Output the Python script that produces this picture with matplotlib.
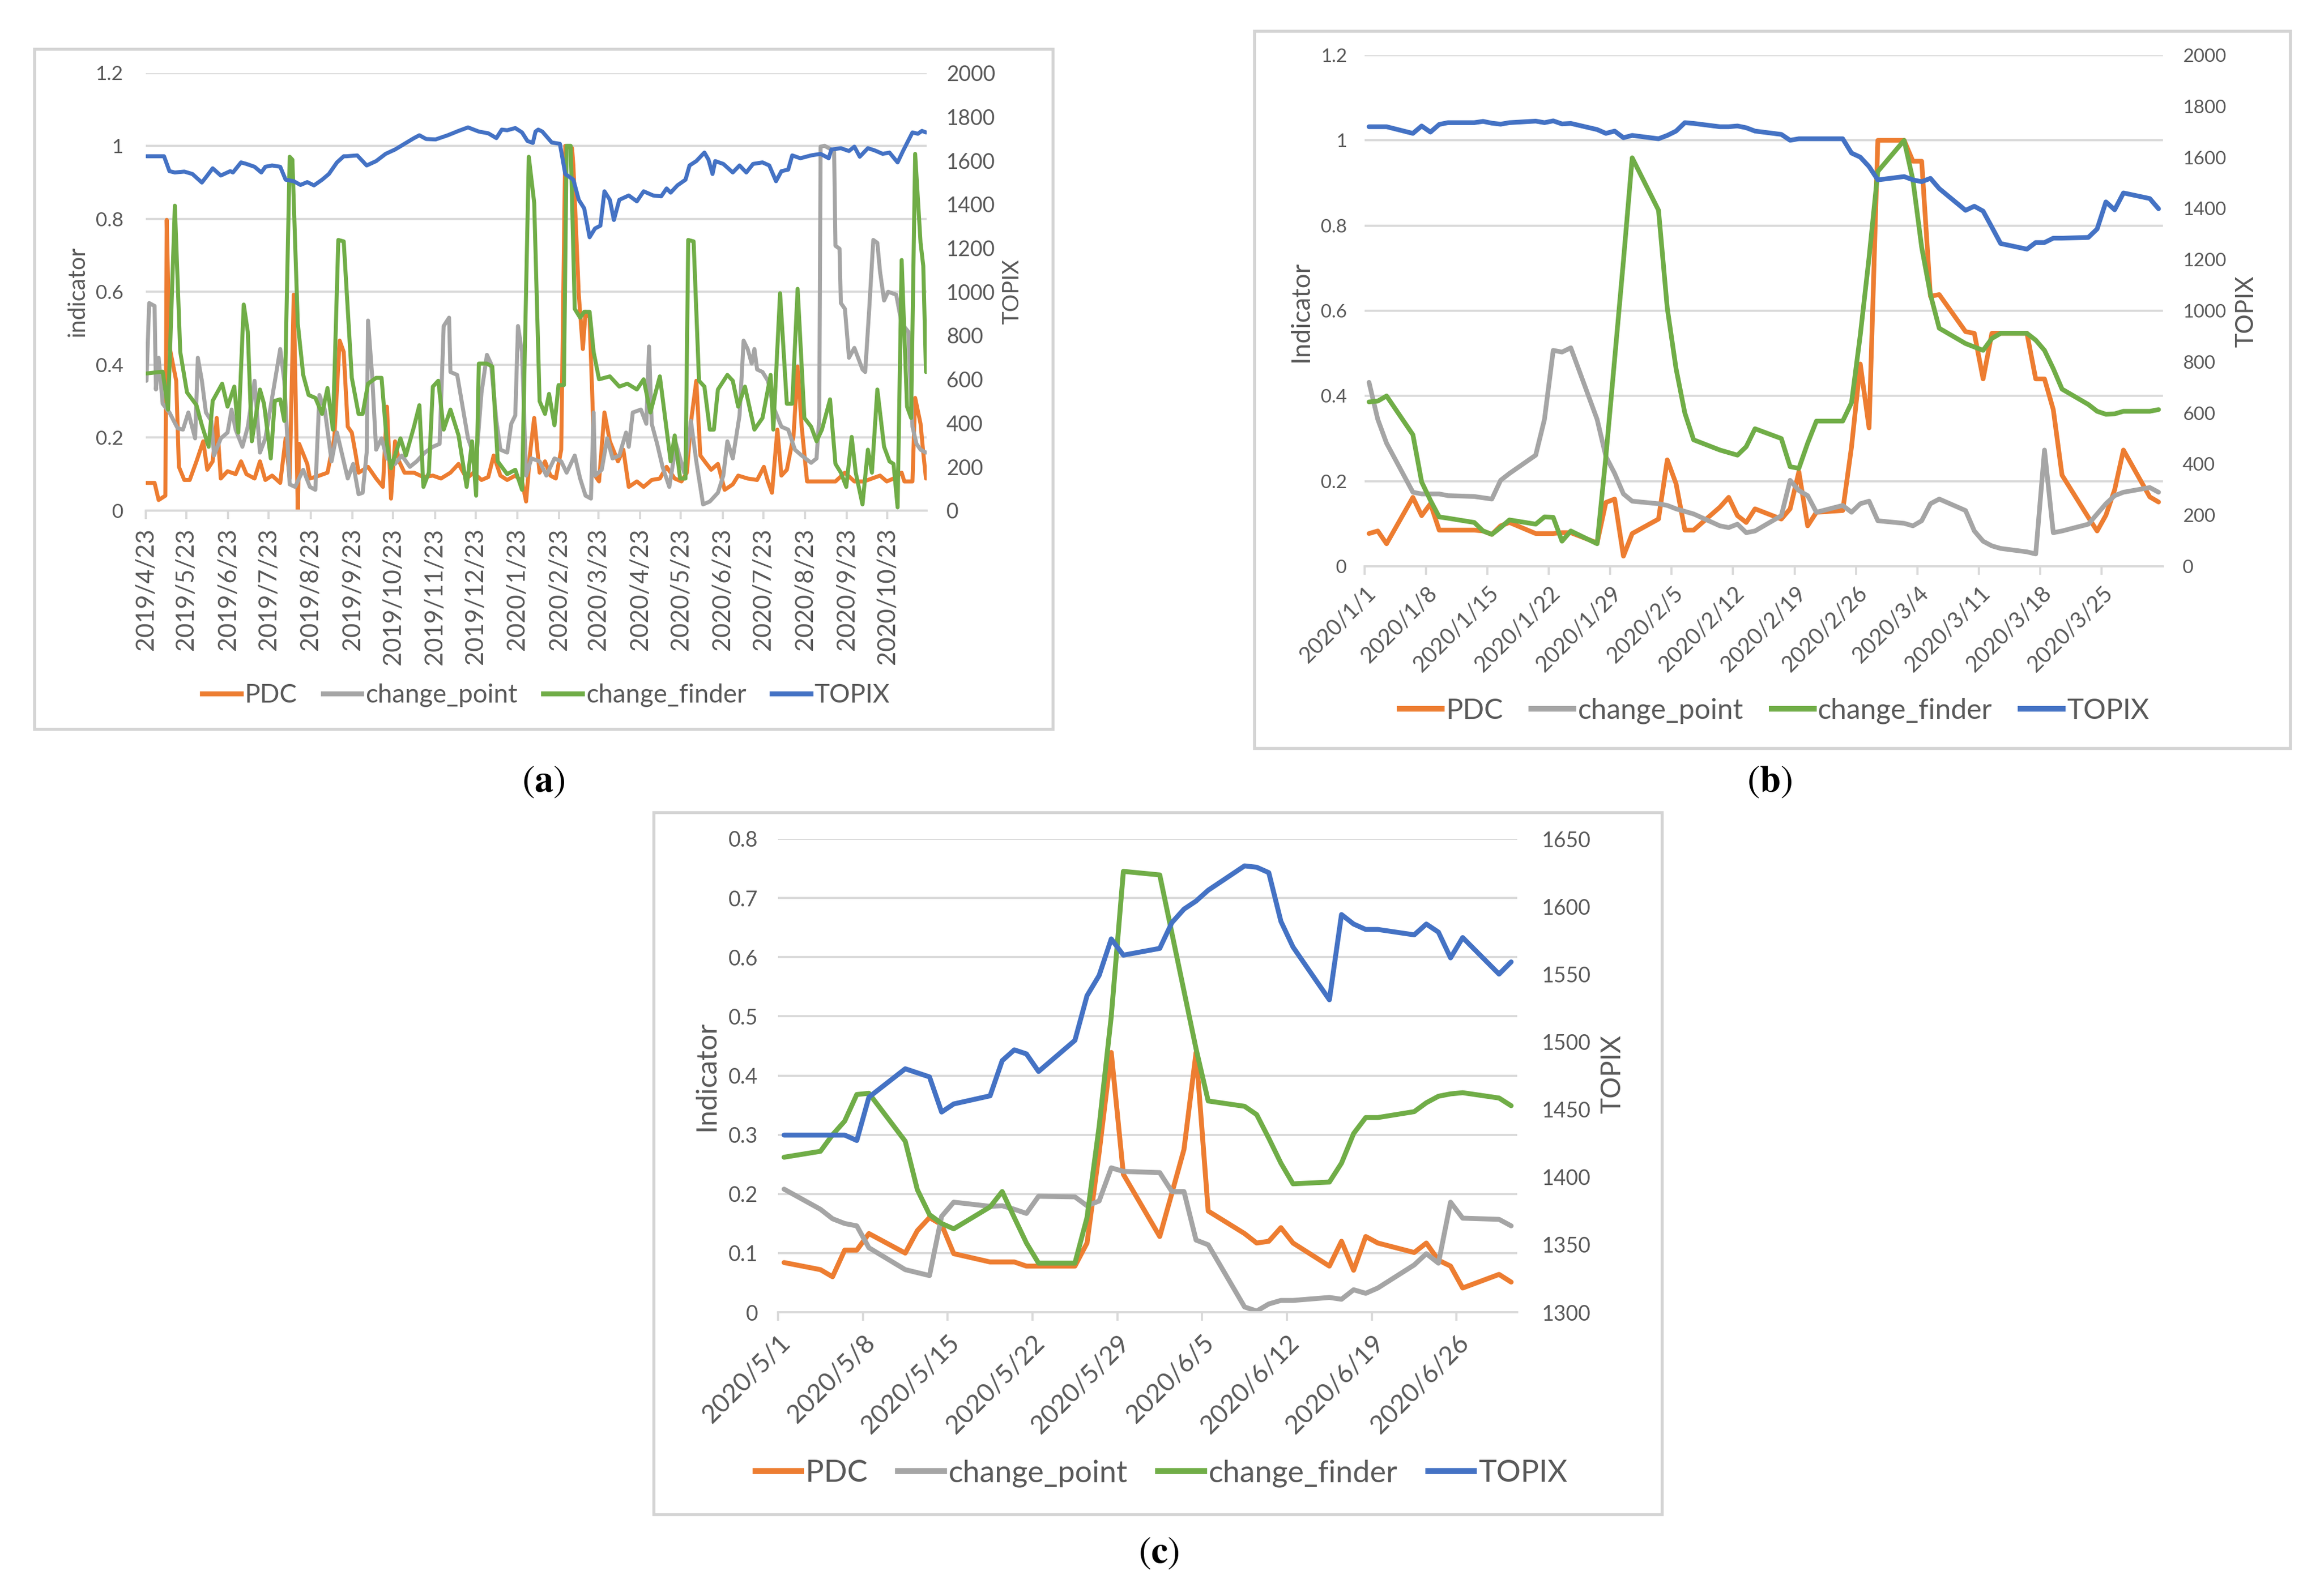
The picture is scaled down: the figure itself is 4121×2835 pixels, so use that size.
import numpy as np
import pandas as pd
import matplotlib
matplotlib.use('Agg')
import matplotlib.pyplot as plt
from matplotlib.lines import Line2D
from matplotlib.patches import Rectangle
from matplotlib.transforms import ScaledTranslation

plt.rcParams['font.family'] = ['Lato', 'DejaVu Sans']
plt.rcParams['mathtext.fontset'] = 'stix'

W, H, DPI = 4121, 2835, 300

names = ['PDC', 'change_point', 'change_finder', 'TOPIX']
colors = ['#ED7D31', '#A5A5A5', '#70AD47', '#4472C4']
TXT = '#595959'
GRID = '#D9D9D9'

# ---------------- panel (a): 2019/4/23 - 2020/11/20, days counted from a_start
a_start = '2019-04-23'

a_pdc_day = [0, 6, 9, 14, 15, 17, 22, 24, 28, 32, 37, 42, 45, 49, 52, 55, 60, 66, 70, 74,
             80, 84, 88, 93, 99, 103, 106, 109, 112, 113, 119, 121, 128, 134, 139, 143, 146,
             149, 152, 155, 157, 164, 170, 175, 178, 181, 184, 187, 191, 198, 205, 212, 218,
             225, 231, 237, 242, 248, 253, 257, 262, 267, 273, 278, 281, 284, 287, 291, 295,
             299, 303, 307, 310, 315, 316, 320, 323, 325, 328, 332, 335, 339, 343, 349, 353,
             357, 363, 368, 374, 380, 385, 391, 396, 400, 403, 407, 410, 414, 418, 423, 428,
             434, 438, 445, 452, 457, 460, 463, 467, 470, 474, 479, 482, 485, 489, 496, 510,
             517, 524, 531, 537, 543, 548, 553, 559, 561, 567, 569, 573, 575, 577]
a_pdc = [.076, .076, .029, .041, .797, .450, .356, .120, .084, .084, .135, .190, .112, .135,
         .254, .088, .108, .100, .135, .100, .088, .135, .084, .096, .076, .198, .088, .592,
         .000, .183, .128, .088, .096, .104, .198, .466, .435, .230, .214, .151, .104, .120,
         .088, .065, .285, .033, .190, .135, .104, .104, .092, .096, .088, .104, .128, .088,
         .104, .084, .092, .151, .096, .084, .096, .080, .025, .159, .254, .104, .135, .096,
         .088, .167, 1.0, .994, .946, .592, .443, .545, .529, .096, .080, .269, .190, .135,
         .167, .065, .080, .065, .084, .088, .120, .088, .080, .104, .242, .356, .151, .131,
         .112, .128, .057, .072, .096, .088, .084, .120, .080, .049, .222, .096, .112, .206,
         .395, .230, .080, .080, .080, .104, .080, .080, .088, .096, .080, .088, .104, .080,
         .080, .309, .238, .159, .088]

a_cp_day = [0, 2, 6, 7, 9, 12, 17, 23, 27, 31, 36, 38, 41, 44, 48, 50, 55, 60, 63, 66, 71,
            75, 80, 84, 88, 93, 99, 102, 106, 110, 116, 121, 125, 128, 132, 137, 141, 146,
            149, 153, 157, 160, 163, 164, 167, 170, 174, 178, 184, 189, 195, 200, 206, 212,
            217, 220, 224, 225, 230, 234, 238, 244, 248, 252, 255, 259, 262, 267, 270, 273,
            275, 278, 281, 285, 291, 296, 302, 307, 311, 317, 321, 325, 329, 331, 332, 337,
            341, 345, 350, 355, 357, 360, 366, 370, 372, 374, 378, 382, 387, 392, 398, 403,
            407, 412, 417, 423, 427, 430, 434, 439, 442, 445, 448, 450, 452, 456, 460, 464,
            470, 475, 480, 485, 492, 496, 498, 499, 502, 509, 510, 513, 514, 517, 520, 524,
            530, 532, 535, 538, 541, 543, 546, 549, 555, 559, 564, 567, 570, 573, 577]
a_cp = [.356, .569, .561, .332, .419, .293, .269, .226, .222, .269, .198, .419, .356, .269,
        .246, .151, .198, .214, .277, .222, .175, .230, .356, .159, .198, .309, .443, .356,
        .072, .065, .112, .065, .057, .317, .277, .135, .214, .135, .088, .128, .045, .049,
        .159, .521, .372, .167, .198, .143, .128, .151, .120, .135, .159, .175, .183, .506,
        .529, .380, .372, .285, .198, .135, .324, .427, .403, .246, .167, .159, .238, .261,
        .506, .435, .096, .143, .135, .096, .143, .135, .104, .151, .088, .041, .033, .269,
        .096, .112, .198, .143, .151, .214, .175, .269, .277, .238, .450, .238, .183, .120,
        .065, .183, .104, .246, .135, .017, .025, .049, .096, .190, .143, .261, .466, .443,
        .403, .443, .387, .380, .356, .285, .230, .222, .167, .151, .131, .143, .254, .998,
        1.0, .986, .726, .718, .569, .553, .419, .446, .387, .380, .553, .742, .734, .655,
        .576, .600, .592, .513, .490, .230, .183, .167, .159]

a_cf_day = [0, 12, 16, 21, 25, 30, 37, 41, 46, 49, 56, 60, 65, 68, 72, 75, 78, 84, 87, 92,
            95, 99, 102, 106, 108, 112, 116, 120, 125, 130, 134, 138, 142, 146, 152, 157, 160,
            164, 170, 174, 178, 181, 188, 192, 198, 202, 205, 209, 212, 216, 220, 225, 231,
            237, 241, 244, 246, 252, 256, 260, 267, 273, 278, 283, 287, 291, 295, 298, 302,
            305, 309, 311, 314, 317, 321, 324, 328, 331, 335, 343, 350, 356, 363, 368, 373,
            380, 385, 388, 391, 395, 399, 401, 405, 409, 413, 417, 420, 423, 430, 434, 438,
            443, 450, 456, 462, 464, 469, 474, 478, 482, 487, 492, 496, 500, 506, 510, 514,
            518, 522, 525, 530, 534, 537, 541, 546, 550, 553, 556, 559, 563, 566, 569, 573,
            575, 577]
a_cf = [.376, .381, .277, .836, .435, .324, .289, .234, .175, .301, .348, .285, .340, .214,
        .565, .490, .190, .332, .293, .143, .301, .305, .246, .970, .962, .513, .372, .317,
        .309, .265, .336, .222, .742, .738, .364, .265, .265, .348, .364, .364, .183, .116,
        .198, .151, .230, .289, .065, .104, .340, .356, .222, .277, .206, .065, .190, .041,
        .403, .403, .395, .135, .100, .112, .057, .970, .844, .300, .265, .320, .234, .344,
        .344, 1.0, 1.0, .553, .529, .545, .545, .435, .360, .368, .340, .348, .332, .360,
        .269, .368, .222, .135, .206, .088, .088, .742, .738, .356, .340, .222, .222, .332,
        .372, .356, .285, .340, .222, .254, .372, .222, .596, .293, .293, .608, .254, .230,
        .190, .222, .305, .128, .104, .065, .202, .104, .017, .167, .104, .332, .175, .135,
        .128, .009, .687, .285, .254, .978, .734, .671, .380]

a_tp_day = [0, 13, 17, 21, 28, 34, 41, 45, 49, 55, 62, 64, 70, 74, 80, 85, 88, 93, 99, 103,
            109, 114, 119, 124, 130, 135, 141, 146, 148, 156, 163, 170, 177, 184, 191, 198,
            202, 207, 214, 223, 231, 238, 246, 253, 259, 263, 267, 273, 278, 282, 286, 288,
            290, 293, 300, 306, 310, 316, 320, 324, 328, 332, 336, 339, 343, 346, 350, 357,
            363, 368, 375, 381, 385, 388, 393, 399, 402, 407, 413, 416, 419, 421, 427, 434,
            439, 444, 449, 456, 461, 466, 470, 475, 478, 484, 492, 499, 505, 507, 514, 520,
            524, 528, 534, 539, 545, 550, 556, 560, 567, 571, 574, 577]
a_tp = [1619, 1619, 1551, 1545, 1549, 1538, 1499, 1531, 1564, 1531, 1551, 1545, 1591, 1584,
        1571, 1545, 1571, 1577, 1571, 1512, 1505, 1488, 1501, 1486, 1512, 1538, 1591, 1619,
        1619, 1623, 1577, 1597, 1630, 1650, 1676, 1702, 1715, 1698, 1696, 1715, 1735, 1751,
        1732, 1724, 1702, 1741, 1738, 1748, 1728, 1689, 1680, 1732, 1741, 1732, 1682, 1676,
        1538, 1512, 1420, 1381, 1249, 1289, 1302, 1459, 1420, 1328, 1420, 1440, 1413, 1459,
        1440, 1436, 1472, 1453, 1486, 1512, 1577, 1597, 1636, 1604, 1538, 1597, 1584, 1545,
        1577, 1545, 1584, 1591, 1577, 1505, 1551, 1558, 1623, 1610, 1623, 1630, 1610, 1650,
        1656, 1643, 1663, 1617, 1656, 1646, 1630, 1636, 1591, 1643, 1728, 1722, 1735, 1728]

# ---------------- panel (b): every weekday 2020/1/1 - 2020/3/31
b_dates = pd.bdate_range('2020-01-01', '2020-03-31')
b_pdc = [.077, .083, .053,
         .162, .119, .147, .085, .085,
         .085, .083, .075, .095, .103,
         .077, .077, .077, .079, .079,
         .055, .150, .158, .024, .077,
         .111, .250, .194, .085, .085,
         .139, .162, .119, .103, .135,
         .111, .135, .222, .095, .127,
         .131, .280, .475, .325, 1.0,
         1.0, .951, .951, .634, .638,
         .551, .547, .440, .547, .547,
         .547, .440, .440, .368, .214,
         .115, .083, .120, .180, .273,
         .163, .151]
b_cp = [.432, .345, .289,
        .174, .170, .170, .170, .166,
        .164, .161, .158, .202, .218,
        .261, .345, .507, .503, .513,
        .345, .258, .218, .170, .153,
        .147, .143, .135, .129, .123,
        .095, .091, .099, .079, .083,
        .119, .202, .178, .166, .127,
        .143, .127, .147, .153, .107,
        .101, .095, .107, .147, .158,
        .131, .083, .059, .048, .042,
        .034, .029, .273, .079, .083,
        .099, .123, .147, .166, .174,
        .185, .174]
b_cf = [.386, .388, .400,
        .309, .198, .155, .116, .113,
        .103, .083, .075, .091, .109,
        .099, .116, .115, .059, .083,
        .053, .258, .487, .717, .959,
        .836, .606, .464, .360, .297,
        .273, .267, .261, .281, .323,
        .300, .234, .230, .289, .341,
        .341, .384, .543, .725, .927,
        1.0, .907, .749, .638, .559,
        .523, .515, .507, .535, .547,
        .547, .531, .507, .464, .416,
        .380, .364, .357, .358, .364,
        .364, .368]
b_tp = [1720, 1720, 1720,
        1694, 1723, 1699, 1729, 1736,
        1736, 1741, 1734, 1730, 1736,
        1742, 1736, 1743, 1731, 1733,
        1709, 1694, 1703, 1677, 1686,
        1673, 1686, 1703, 1736, 1733,
        1720, 1720, 1723, 1716, 1703,
        1690, 1667, 1673, 1673, 1673,
        1673, 1617, 1601, 1564, 1512,
        1525, 1512, 1505, 1518, 1478,
        1393, 1409, 1390, 1327, 1263,
        1241, 1267, 1267, 1284, 1284,
        1287, 1320, 1426, 1395, 1461,
        1439, 1399]

# ---------------- panel (c): every weekday 2020/5/1 - 2020/6/30
c_dates = pd.bdate_range('2020-05-01', '2020-06-30')
c_pdc = [.084, .072, .060, .105, .105, .133,
         .100, .138, .160, .148, .099,
         .085, .085, .085, .078, .078,
         .078, .117, .270, .439, .233,
         .128, .201, .275, .439, .171,
         .133, .117, .120, .143, .117,
         .078, .120, .071, .128, .117,
         .101, .117, .088, .078, .041,
         .064, .051]
c_cp = [.208, .174, .158, .150, .146, .109,
        .072, .067, .062, .162, .186,
        .179, .180, .174, .167, .196,
        .195, .180, .188, .244, .238,
        .236, .204, .204, .122, .114,
        .009, .002, .014, .020, .020,
        .025, .022, .038, .032, .041,
        .080, .099, .083, .186, .159,
        .157, .146]
c_cf = [.262, .272, .300, .323, .368, .370,
        .289, .207, .165, .150, .141,
        .178, .204, .160, .117, .083,
        .083, .160, .314, .500, .745,
        .739, .641, .543, .445, .357,
        .348, .334, .294, .252, .217,
        .220, .252, .302, .329, .329,
        .339, .354, .365, .369, .371,
        .362, .349]
c_tp = [1431, 1431, 1431, 1431, 1427, 1459,
        1480, 1477, 1474, 1448, 1454,
        1460, 1486, 1494, 1491, 1478,
        1501, 1534, 1549, 1576, 1564,
        1569, 1588, 1598, 1604, 1612,
        1630, 1629, 1625, 1589, 1570,
        1531, 1594, 1587, 1583, 1583,
        1579, 1587, 1581, 1562, 1577,
        1550, 1559]


def fig_rect(l, t, r, b):
    return [l / W, 1 - b / H, (r - l) / W, (b - t) / H]


def fx(px):
    return px / W


def fy(py):
    return 1 - py / H


def fmt_date(d):
    return f'{d.year}/{d.month}/{d.day}'


def days_to_dates(start, days):
    # excel date axis puts each point in the middle of its day
    return pd.to_datetime(start) + pd.to_timedelta(np.array(days) + 0.5, unit='D')


def noon(dates):
    return pd.DatetimeIndex(dates) + pd.Timedelta(hours=12)


def draw_panel(fig, ax_px, box_px, series, xlim, xticks, rot, ylim, ystep, y2lim, y2step,
               sizes, pads, lw, ylabel, ylabel_px, tlabel_px, legend_px, tag, tag_px):
    l, t, r, b = box_px
    fig.add_artist(Rectangle((fx(l), fy(b)), (r - l) / W, (b - t) / H,
                             transform=fig.transFigure, fill=False,
                             ec='#D4D4D4', lw=1.3))

    ax = fig.add_axes(fig_rect(*ax_px))
    ax2 = ax.twinx()
    for (x, y), c in zip(series[:3], colors[:3]):
        ax.plot(x, y, color=c, lw=lw, solid_joinstyle='round', solid_capstyle='round')
    ax2.plot(series[3][0], series[3][1], color=colors[3], lw=lw,
             solid_joinstyle='round', solid_capstyle='round')

    ax.set_xlim(pd.Timestamp(xlim[0]), pd.Timestamp(xlim[1]))
    ax.set_ylim(ylim)
    yt = np.round(np.arange(ylim[0], ylim[1] + ystep / 2, ystep), 2)
    ax.set_yticks(yt)
    ax.set_yticklabels([f'{v:g}' for v in yt])
    ax.yaxis.grid(True, color=GRID, lw=0.9)
    ax.set_axisbelow(True)

    ax2.set_ylim(y2lim)
    y2t = np.arange(y2lim[0], y2lim[1] + 1, y2step)
    ax2.set_yticks(y2t)
    ax2.set_yticklabels([str(int(v)) for v in y2t])

    for a in (ax, ax2):
        for s in ['top', 'left', 'right']:
            a.spines[s].set_visible(False)
    ax.spines['bottom'].set_color(GRID)
    ax.spines['bottom'].set_linewidth(0.9)
    ax2.spines['bottom'].set_visible(False)

    ax.tick_params(axis='y', length=0, pad=pads[0], labelsize=sizes[0], labelcolor=TXT)
    ax2.tick_params(axis='y', length=0, pad=pads[1], labelsize=sizes[1], labelcolor=TXT)
    ax.set_xticks(list(xticks))
    ax.tick_params(axis='x', length=3.5, width=0.9, color=GRID, pad=pads[2],
                   labelsize=sizes[2], labelcolor=TXT)
    labels = [fmt_date(d) for d in xticks]
    if rot == 90:
        ax.set_xticklabels(labels, rotation=90, ha='center', va='top')
    else:
        ax.set_xticklabels(labels, rotation=45, ha='right', va='center',
                           rotation_mode='anchor')
        shift = ScaledTranslation(pads[3] / DPI, 0, fig.dpi_scale_trans)
        for lab in ax.get_xticklabels():
            lab.set_transform(lab.get_transform() + shift)

    fig.text(fx(ylabel_px[0]), fy(ylabel_px[1]), ylabel, rotation=90, ha='center',
             va='center', fontsize=sizes[3], color=TXT)
    fig.text(fx(tlabel_px[0]), fy(tlabel_px[1]), 'TOPIX', rotation=90, ha='center',
             va='center', fontsize=sizes[4], color=TXT)

    handles = [Line2D([], [], color=c, lw=lw + 0.4) for c in colors]
    fig.legend(handles, names, loc='center', bbox_to_anchor=(fx(legend_px[0]), fy(legend_px[1])),
               ncol=4, frameon=False, fontsize=sizes[5], handlelength=1.5,
               handletextpad=0.15, columnspacing=1.0, labelcolor=TXT,
               borderpad=0, borderaxespad=0)

    fig.text(fx(tag_px[0]), fy(tag_px[1]), r'($\mathbf{' + tag + r'}$)', ha='center',
             va='center', fontsize=16, family='STIXGeneral', color='black')


fig = plt.figure(figsize=(W / DPI, H / DPI), dpi=DPI)
fig.patch.set_facecolor('white')

draw_panel(fig, (259, 129.5, 1646, 907), (61, 87, 1870, 1295),
           [(days_to_dates(a_start, a_pdc_day), a_pdc),
            (days_to_dates(a_start, a_cp_day), a_cp),
            (days_to_dates(a_start, a_cf_day), a_cf),
            (days_to_dates(a_start, a_tp_day), a_tp)],
           ('2019-04-23', '2020-11-21'),
           pd.date_range('2019-04-23', '2020-10-23', freq=pd.DateOffset(months=1)), 90,
           (0, 1.2), 0.2, (0, 2000), 200,
           (8.5, 9, 10.5, 10, 9.5, 11), (9.6, 8.4, 4.0, 0), 1.7,
           'indicator', (138, 518), (1798, 518), (970, 1235), 'a', (965, 1390))

draw_panel(fig, (2424, 98, 3842, 1006), (2228, 55, 4068, 1329),
           [(noon(b_dates), b_pdc), (noon(b_dates), b_cp),
            (noon(b_dates), b_cf), (noon(b_dates), b_tp)],
           ('2020-01-01', '2020-04-01'),
           pd.date_range('2020-01-01', '2020-03-25', freq='7D'), 45,
           (0, 1.2), 0.2, (0, 2000), 200,
           (8, 8, 9.5, 11, 10.5, 12), (7.5, 8.4, 6.6, 14), 2.0,
           'Indicator', (2311, 553), (3990, 553), (3152, 1263), 'b', (3143, 1390))

draw_panel(fig, (1382, 1490, 2695, 2331), (1161, 1443, 2952, 2690),
           [(noon(c_dates), c_pdc), (noon(c_dates), c_cp),
            (noon(c_dates), c_cf), (noon(c_dates), c_tp)],
           ('2020-05-01', '2020-07-01'),
           pd.date_range('2020-05-01', '2020-06-26', freq='7D'), 45,
           (0, 0.8), 0.1, (1300, 1650), 50,
           (9, 9, 11, 12, 11.5, 13), (8.6, 10.5, 7.8, 15), 2.1,
           'Indicator', (1255, 1911), (2864, 1908), (2063, 2617), 'c', (2058, 2760))

fig.savefig('out.png', dpi=DPI, facecolor='white')
